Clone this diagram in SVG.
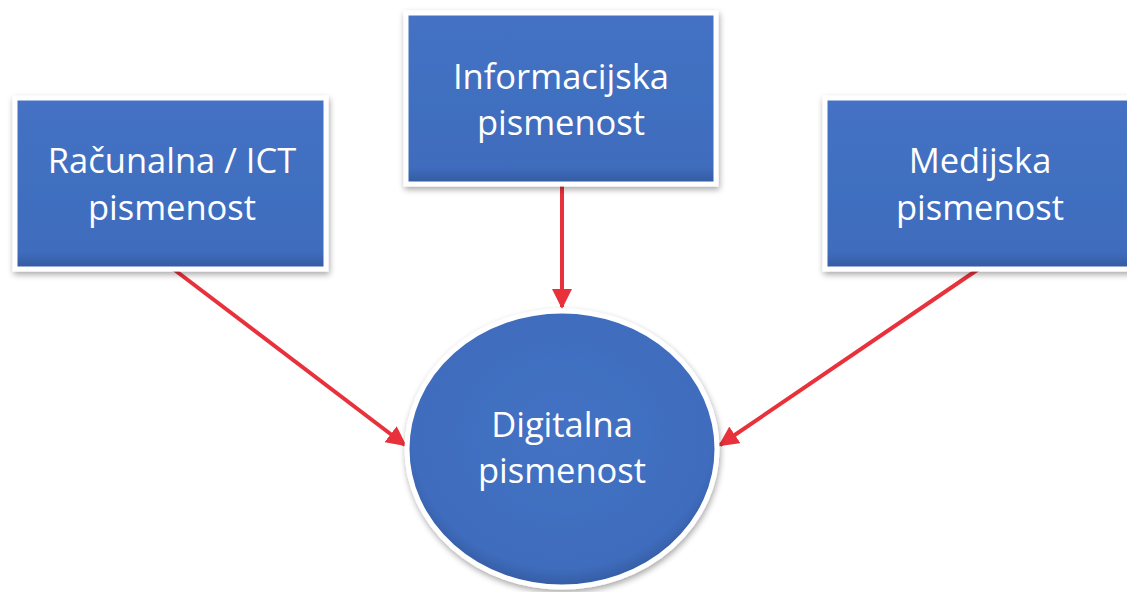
<svg xmlns="http://www.w3.org/2000/svg" width="1127" height="592" viewBox="0 0 1127 592">
  <defs>
    <filter id="shadow" x="-10%" y="-10%" width="120%" height="125%">
      <feGaussianBlur in="SourceAlpha" stdDeviation="3"/>
      <feOffset dx="1" dy="3" result="b"/>
      <feComponentTransfer><feFuncA type="linear" slope="0.35"/></feComponentTransfer>
      <feMerge><feMergeNode/><feMergeNode in="SourceGraphic"/></feMerge>
    </filter>
    <linearGradient id="blue" x1="0" y1="0" x2="0" y2="1">
      <stop offset="0" stop-color="#4472C4"/>
      <stop offset="0.9" stop-color="#3F6CBD"/>
      <stop offset="1" stop-color="#335A9E"/>
    </linearGradient>
    <radialGradient id="blueC" cx="0.5" cy="0.45" r="0.55">
      <stop offset="0" stop-color="#4472C4"/>
      <stop offset="0.88" stop-color="#3F6CBD"/>
      <stop offset="1" stop-color="#345CA2"/>
    </radialGradient>
    <marker id="arrow" viewBox="0 0 10 10" refX="9" refY="5" markerWidth="5" markerHeight="5" markerUnits="strokeWidth" orient="auto">
      <path d="M0,0 L10,5 L0,10 z" fill="#E8313B"/>
    </marker>
  </defs>
  <style>
    .shape { fill: url(#blue); stroke: #ffffff; stroke-width: 5; filter: url(#shadow); }
    .circ { fill: url(#blueC); stroke: #ffffff; stroke-width: 5; filter: url(#shadow); }
    .lbl { font-family: "Open Sans", "Liberation Sans", sans-serif; font-size: 34.5px; fill: #ffffff; text-anchor: middle; }
    .conn { stroke: #E8313B; stroke-width: 4; fill: none; marker-end: url(#arrow); }
  </style>
  <rect width="1127" height="592" fill="#ffffff"/>

  <g id="connectors">
    <line class="conn" x1="172" y1="268" x2="405" y2="445"/>
    <line class="conn" x1="562" y1="183" x2="562" y2="307"/>
    <line class="conn" x1="980" y1="268" x2="720" y2="445"/>
  </g>

  <g id="node-racunalna">
    <rect class="shape" x="15" y="98" width="311" height="171"/>
    <text class="lbl" x="172" y="173">Računalna / ICT</text>
    <text class="lbl" x="172" y="220">pismenost</text>
  </g>

  <g id="node-informacijska">
    <rect class="shape" x="406" y="13" width="310" height="171"/>
    <text class="lbl" x="561" y="89">Informacijska</text>
    <text class="lbl" x="561" y="135">pismenost</text>
  </g>

  <g id="node-medijska">
    <rect class="shape" x="825" y="98" width="311" height="171"/>
    <text class="lbl" x="980" y="173">Medijska</text>
    <text class="lbl" x="980" y="220">pismenost</text>
  </g>

  <g id="node-digitalna">
    <ellipse class="circ" cx="562" cy="449" rx="155" ry="138"/>
    <text class="lbl" x="562" y="437">Digitalna</text>
    <text class="lbl" x="562" y="483">pismenost</text>
  </g>
</svg>
